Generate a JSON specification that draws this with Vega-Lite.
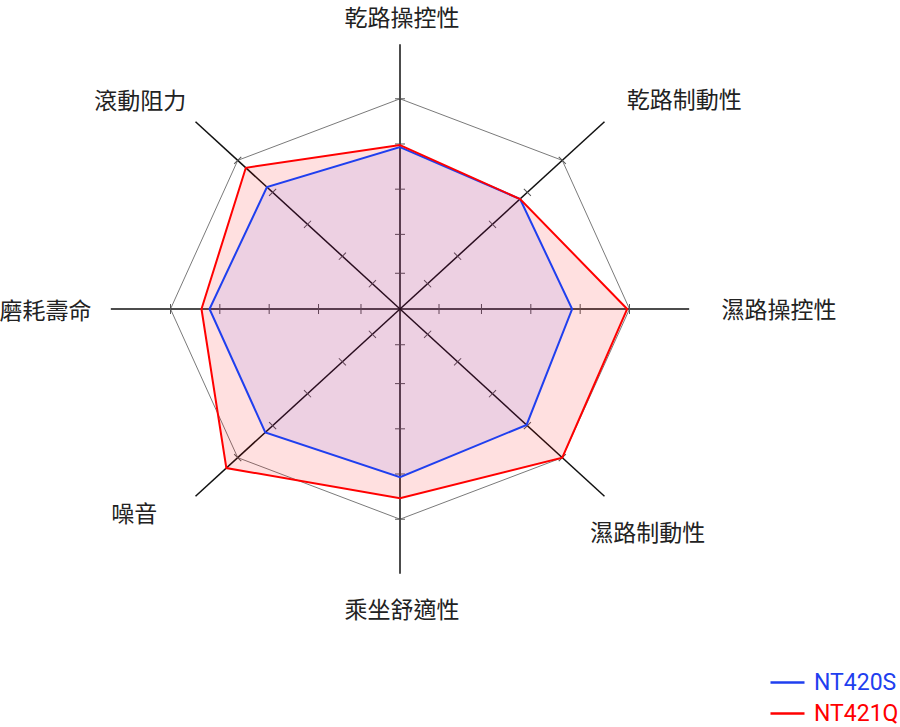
{
  "$schema": "https://vega.github.io/schema/vega-lite/v6.json",
  "width": 900,
  "height": 727,
  "padding": 0,
  "autosize": {"type": "none"},
  "background": "white",
  "config": {"view": {"stroke": null}},
  "datasets": {
    "axes": [
      {"idx": 0, "label": "乾路操控性", "ticks": [17, 35.5, 57, 78.5, 100]},
      {"idx": 1, "label": "乾路制動性", "ticks": [17, 35.5, 57, 78.5, 100]},
      {"idx": 2, "label": "濕路操控性", "ticks": [17, 35.5, 57, 78.5, 100]},
      {"idx": 3, "label": "濕路制動性", "ticks": [17, 35.5, 57, 78.5, 100]},
      {"idx": 4, "label": "乘坐舒適性", "ticks": [17, 35.5, 57, 78.5, 100]},
      {"idx": 5, "label": "噪音", "ticks": [17, 35.5, 57, 78.5, 100]},
      {"idx": 6, "label": "磨耗壽命", "ticks": [17, 35.5, 57, 78.5, 100]},
      {"idx": 7, "label": "滾動阻力", "ticks": [17, 35.5, 57, 78.5, 100]}
    ],
    "scores": [
      {"tire": "NT420S", "idx": 0, "value": 77},
      {"tire": "NT420S", "idx": 1, "value": 74},
      {"tire": "NT420S", "idx": 2, "value": 75},
      {"tire": "NT420S", "idx": 3, "value": 78},
      {"tire": "NT420S", "idx": 4, "value": 80},
      {"tire": "NT420S", "idx": 5, "value": 83},
      {"tire": "NT420S", "idx": 6, "value": 83},
      {"tire": "NT420S", "idx": 7, "value": 82},
      {"tire": "NT421Q", "idx": 0, "value": 78},
      {"tire": "NT421Q", "idx": 1, "value": 74},
      {"tire": "NT421Q", "idx": 2, "value": 99},
      {"tire": "NT421Q", "idx": 3, "value": 100},
      {"tire": "NT421Q", "idx": 4, "value": 90},
      {"tire": "NT421Q", "idx": 5, "value": 107},
      {"tire": "NT421Q", "idx": 6, "value": 86.5},
      {"tire": "NT421Q", "idx": 7, "value": 95}
    ]
  },
  "encoding": {
    "x": {"field": "px", "type": "quantitative", "scale": {"domain": [-174.292, 217.865], "nice": false, "zero": false}, "axis": null},
    "y": {"field": "py", "type": "quantitative", "scale": {"domain": [-198.858, 147.003], "nice": false, "zero": false}, "axis": null}
  },
  "layer": [
    {
      "data": {"name": "axes"},
      "transform": [
        {"calculate": "100*sin(datum.idx*PI/4)", "as": "px"},
        {"calculate": "100*cos(datum.idx*PI/4)", "as": "py"}
      ],
      "mark": {"type": "line", "interpolate": "linear-closed", "stroke": "#7a7a7a", "strokeWidth": 1},
      "encoding": {"order": {"field": "idx", "type": "quantitative"}}
    },
    {
      "data": {"name": "axes"},
      "transform": [
        {"calculate": "0", "as": "px"},
        {"calculate": "0", "as": "py"},
        {"calculate": "126*sin(datum.idx*PI/4)", "as": "ex"},
        {"calculate": "126*cos(datum.idx*PI/4)", "as": "ey"}
      ],
      "mark": {"type": "rule", "stroke": "#111111", "strokeWidth": 1.5},
      "encoding": {"x2": {"field": "ex"}, "y2": {"field": "ey"}}
    },
    {
      "data": {"name": "axes"},
      "transform": [
        {"flatten": ["ticks"], "as": ["r"]},
        {"calculate": "datum.r*sin(datum.idx*PI/4)", "as": "px"},
        {"calculate": "datum.r*cos(datum.idx*PI/4)", "as": "py"},
        {"calculate": "datum.idx*45", "as": "deg"}
      ],
      "mark": {"type": "point", "shape": "M-1,0L1,0", "filled": false, "stroke": "#555555", "strokeWidth": 1, "size": 100, "opacity": 1},
      "encoding": {"angle": {"field": "deg", "type": "quantitative", "scale": null}}
    },
    {
      "data": {"name": "scores"},
      "transform": [
        {"filter": "datum.tire === 'NT421Q'"},
        {"calculate": "datum.value*sin(datum.idx*PI/4)", "as": "px"},
        {"calculate": "datum.value*cos(datum.idx*PI/4)", "as": "py"}
      ],
      "mark": {"type": "line", "interpolate": "linear-closed", "fill": "#ff0000", "fillOpacity": 0.12, "stroke": null, "strokeWidth": 0},
      "encoding": {"order": {"field": "idx", "type": "quantitative"}}
    },
    {
      "data": {"name": "scores"},
      "transform": [
        {"filter": "datum.tire === 'NT420S'"},
        {"calculate": "datum.value*sin(datum.idx*PI/4)", "as": "px"},
        {"calculate": "datum.value*cos(datum.idx*PI/4)", "as": "py"}
      ],
      "mark": {"type": "line", "interpolate": "linear-closed", "fill": "#0000ff", "fillOpacity": 0.07, "stroke": null, "strokeWidth": 0},
      "encoding": {"order": {"field": "idx", "type": "quantitative"}}
    },
    {
      "data": {"name": "scores"},
      "transform": [
        {"filter": "datum.tire === 'NT420S'"},
        {"calculate": "datum.value*sin(datum.idx*PI/4)", "as": "px"},
        {"calculate": "datum.value*cos(datum.idx*PI/4)", "as": "py"}
      ],
      "mark": {"type": "line", "interpolate": "linear-closed", "strokeWidth": 2},
      "encoding": {
        "order": {"field": "idx", "type": "quantitative"},
        "color": {
          "field": "tire", "type": "nominal",
          "scale": {"domain": ["NT420S", "NT421Q"], "range": ["#1f3fef", "#ff0000"]},
          "legend": {
            "orient": "none", "legendX": 769, "legendY": 664, "title": null, "padding": 0,
            "symbolType": "stroke", "symbolSize": 1156, "symbolStrokeWidth": 2.5,
            "labelFont": "Roboto", "labelFontSize": 23, "labelOffset": 8, "rowPadding": 0,
            "encode": {"labels": {"update": {"fill": {"signal": "datum.value === 'NT420S' ? '#1f3fef' : '#ff0000'"}}}}
          }
        }
      }
    },
    {
      "data": {"name": "scores"},
      "transform": [
        {"filter": "datum.tire === 'NT421Q'"},
        {"calculate": "datum.value*sin(datum.idx*PI/4)", "as": "px"},
        {"calculate": "datum.value*cos(datum.idx*PI/4)", "as": "py"}
      ],
      "mark": {"type": "line", "interpolate": "linear-closed", "strokeWidth": 2},
      "encoding": {
        "order": {"field": "idx", "type": "quantitative"},
        "color": {"field": "tire", "type": "nominal"}
      }
    },
    {
      "data": {"name": "axes"},
      "transform": [
        {"filter": "datum.idx === 0 || datum.idx === 4"},
        {"calculate": "141*sin(datum.idx*PI/4)", "as": "px"},
        {"calculate": "141*cos(datum.idx*PI/4)", "as": "py"}
      ],
      "mark": {"type": "text", "align": "center", "baseline": "middle", "font": "Noto Sans CJK TC", "fontSize": 23, "color": "#222222", "dx": 2, "dy": 6},
      "encoding": {"text": {"field": "label"}}
    },
    {
      "data": {"name": "axes"},
      "transform": [
        {"filter": "datum.idx === 1 || datum.idx === 2"},
        {"calculate": "141*sin(datum.idx*PI/4)", "as": "px"},
        {"calculate": "141*cos(datum.idx*PI/4)", "as": "py"}
      ],
      "mark": {"type": "text", "align": "left", "baseline": "middle", "font": "Noto Sans CJK TC", "fontSize": 23, "color": "#222222", "dx": -2, "dy": 2},
      "encoding": {"text": {"field": "label"}}
    },
    {
      "data": {"name": "axes"},
      "transform": [
        {"filter": "datum.idx === 6 || datum.idx === 7"},
        {"calculate": "141*sin(datum.idx*PI/4)", "as": "px"},
        {"calculate": "141*cos(datum.idx*PI/4)", "as": "py"}
      ],
      "mark": {"type": "text", "align": "right", "baseline": "middle", "font": "Noto Sans CJK TC", "fontSize": 23, "color": "#222222", "dx": 15, "dy": 3},
      "encoding": {"text": {"field": "label"}}
    },
    {
      "data": {"name": "axes"},
      "transform": [
        {"filter": "datum.idx === 3"},
        {"calculate": "141*sin(datum.idx*PI/4)", "as": "px"},
        {"calculate": "141*cos(datum.idx*PI/4)", "as": "py"}
      ],
      "mark": {"type": "text", "align": "center", "baseline": "middle", "font": "Noto Sans CJK TC", "fontSize": 23, "color": "#222222", "dx": 19, "dy": 15},
      "encoding": {"text": {"field": "label"}}
    },
    {
      "data": {"name": "axes"},
      "transform": [
        {"filter": "datum.idx === 5"},
        {"calculate": "141*sin(datum.idx*PI/4)", "as": "px"},
        {"calculate": "141*cos(datum.idx*PI/4)", "as": "py"}
      ],
      "mark": {"type": "text", "align": "center", "baseline": "middle", "font": "Noto Sans CJK TC", "fontSize": 23, "color": "#222222", "dx": -37, "dy": -4},
      "encoding": {"text": {"field": "label"}}
    }
  ]
}
